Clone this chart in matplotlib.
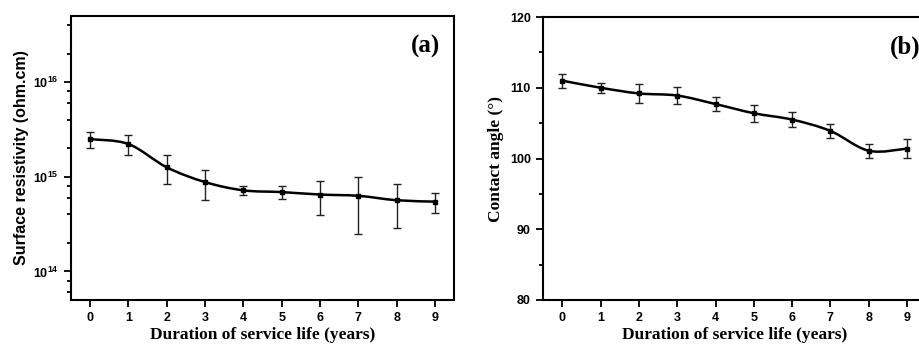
import numpy as np
import matplotlib
matplotlib.use('Agg')
from matplotlib import pyplot as plt
from matplotlib.path import Path
from matplotlib.patches import PathPatch
from matplotlib.ticker import LogLocator, MultipleLocator, NullFormatter

years = [0, 1, 2, 3, 4, 5, 6, 7, 8, 9]

resist = [2.5e15, 2.22e15, 1.26e15, 8.8e14, 7.2e14, 6.9e14, 6.5e14, 6.3e14, 5.66e14, 5.47e14]
resist_hi = [3.0e15, 2.75e15, 1.68e15, 1.19e15, 8.0e14, 8.0e14, 9.0e14, 1.0e15, 8.5e14, 6.76e14]
resist_lo = [2.0e15, 1.68e15, 8.4e14, 5.7e14, 6.45e14, 5.8e14, 3.93e14, 2.5e14, 2.9e14, 4.15e14]

angle = [111.0, 110.0, 109.2, 108.9, 107.7, 106.4, 105.5, 103.9, 101.1, 101.4]
angle_err = [1.0, 0.7, 1.3, 1.2, 1.05, 1.2, 1.05, 0.95, 1.0, 1.3]

sans = 'Liberation Sans'
serif = 'Liberation Serif'


def smooth_path(x, y):
	# catmull-rom through the points, as cubic bezier segments
	x = np.asarray(x, float)
	y = np.asarray(y, float)
	n = len(x)
	verts = [(x[0], y[0])]
	codes = [Path.MOVETO]
	for i in range(n - 1):
		p0 = i - 1 if i > 0 else i
		p3 = i + 2 if i + 2 < n else i + 1
		c1 = (x[i] + (x[i+1] - x[p0]) / 6, y[i] + (y[i+1] - y[p0]) / 6)
		c2 = (x[i+1] - (x[p3] - x[i]) / 6, y[i+1] - (y[p3] - y[i]) / 6)
		verts += [c1, c2, (x[i+1], y[i+1])]
		codes += [Path.CURVE4] * 3
	return np.array(verts), codes


def style_axes(ax):
	for s in ax.spines.values():
		s.set_linewidth(1.5)
	ax.tick_params(which='both', direction='out', top=False, right=False, width=1.3)
	ax.tick_params(which='major', length=5, pad=4)
	ax.tick_params(which='minor', length=3)
	for lab in ax.get_xticklabels() + ax.get_yticklabels():
		lab.set_fontfamily(sans)
		lab.set_fontweight('bold')
		lab.set_fontsize(9)


fig = plt.figure(figsize=(9.2, 3.48), dpi=100)

# (a) surface resistivity
ax1 = fig.add_axes([0.0772, 0.138, 0.4163, 0.816])
ax1.set_yscale('log')
verts, codes = smooth_path(years, np.log10(resist))
verts[:, 1] = 10 ** verts[:, 1]
ax1.add_patch(PathPatch(Path(verts, codes), fc='none', ec='black', lw=1.8, zorder=3))
yerr = [np.array(resist) - np.array(resist_lo), np.array(resist_hi) - np.array(resist)]
ax1.errorbar(years, resist, yerr=yerr, fmt='s', ms=3.5, color='black', ecolor='#222222',
	elinewidth=1.0, capsize=3, capthick=1.0, zorder=4)
ax1.set_xlim(-0.5, 9.5)
ax1.set_ylim(5e13, 5e16)
ax1.set_xticks(years)
ax1.yaxis.set_major_locator(LogLocator(base=10, numticks=10))
ax1.yaxis.set_minor_locator(LogLocator(base=10, subs=[2, 4, 6, 8], numticks=10))
ax1.yaxis.set_minor_formatter(NullFormatter())
style_axes(ax1)
ax1.set_xlabel('Duration of service life (years)', family=serif, weight='bold', fontsize=12.5, labelpad=2)
ax1.set_ylabel('Surface resistivity (ohm.cm)', family=sans, weight='bold', fontsize=11.5, labelpad=3)
ax1.text(0.965, 0.935, '(a)', transform=ax1.transAxes, ha='right', va='top',
	family=serif, weight='bold', fontsize=18)

# (b) contact angle
ax2 = fig.add_axes([0.5906, 0.138, 0.416, 0.813])
verts, codes = smooth_path(years, angle)
ax2.add_patch(PathPatch(Path(verts, codes), fc='none', ec='black', lw=1.8, zorder=3))
ax2.errorbar(years, angle, yerr=angle_err, fmt='s', ms=3.5, color='black', ecolor='#222222',
	elinewidth=1.0, capsize=3, capthick=1.0, zorder=4)
ax2.set_xlim(-0.5, 9.5)
ax2.set_ylim(80, 120)
ax2.set_xticks(years)
ax2.yaxis.set_major_locator(MultipleLocator(10))
ax2.yaxis.set_minor_locator(MultipleLocator(5))
style_axes(ax2)
ax2.set_xlabel('Duration of service life (years)', family=serif, weight='bold', fontsize=12.5, labelpad=2)
ax2.set_ylabel('Contact angle (°)', family=serif, weight='bold', fontsize=12.5, labelpad=4)
ax2.text(0.985, 0.935, '(b)', transform=ax2.transAxes, ha='right', va='top',
	family=serif, weight='bold', fontsize=18)

fig.savefig('out.png', dpi=100)
